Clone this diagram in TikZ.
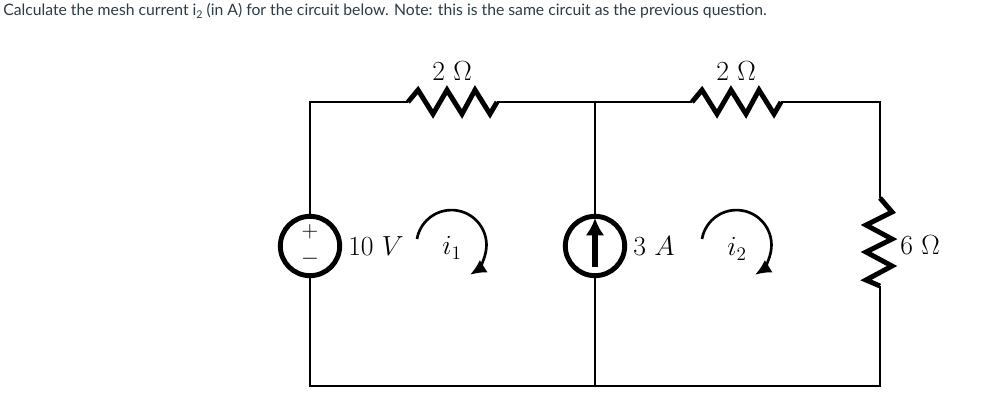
\documentclass[tikz,border=0pt]{standalone}
\usepackage{amsmath}
\usepackage{fontspec}
\newfontfamily\titlefont{Lato}
\usetikzlibrary{arrows.meta, positioning}
\definecolor{titlegray}{HTML}{2D3B45}
\tikzset{
    wire/.style={line width=2.1pt},
    zigzag/.style={line width=3.7pt, line join=miter},
    source/.style={draw, circle, line width=3.7pt, minimum size=44.5pt, inner sep=0pt},
    lab/.style={font=\huge, inner sep=0pt},
    signlab/.style={font=\LARGE, inner sep=0pt},
    mesharrow/.style={line width=2pt, -{Latex[length=12pt,width=11pt]}},
    sourcearrow/.style={line width=3.8pt, -{Latex[length=13pt,width=14pt]}}
}
\begin{document}
\begin{tikzpicture}[x=0.75pt,y=-0.75pt]
\useasboundingbox (0,0) rectangle (997,408);

\node[anchor=west, inner sep=0pt, text=titlegray, font=\titlefont\fontsize{11.8}{14}\selectfont] (title) at (3,11)
    {Calculate the mesh current i\raisebox{-.4ex}{\footnotesize 2} (in A) for the circuit below. Note: this is the same circuit as the previous question.};

\coordinate (tl) at (310,102);
\coordinate (tm) at (595,102);
\coordinate (tr) at (880,102);
\coordinate (bl) at (310,386);
\coordinate (bm) at (595,386);
\coordinate (br) at (880,386);
\coordinate (r1a) at (408,102);
\coordinate (r1b) at (497,102);
\coordinate (r2a) at (692,102);
\coordinate (r2b) at (781,102);
\coordinate (r3a) at (880,198);
\coordinate (r3b) at (880,286);

\node[source] (vsrc) at (310,246) {};
\node[source] (isrc) at (595,246) {};

\draw[wire] (vsrc) -- (tl) -- (r1a);
\draw[wire] (r1b) -- (tm) -- (r2a);
\draw[wire] (r2b) -- (tr) -- (r3a);
\draw[wire] (r3b) -- (br) -- (bm) -- (bl) -- (vsrc);
\draw[wire] (tm) -- (isrc);
\draw[wire] (isrc) -- (bm);

\draw[zigzag] (r1a) -- ++(10,-12) -- ++(15,24) -- ++(14,-24) -- ++(15,24) -- ++(13,-24) -- ++(15,24) -- (r1b);
\draw[zigzag] (r2a) -- ++(10,-12) -- ++(15,24) -- ++(14,-24) -- ++(15,24) -- ++(13,-24) -- ++(15,24) -- (r2b);
\draw[zigzag] (r3a) -- ++(12,14) -- ++(-26,13) -- ++(26,14) -- ++(-26,13) -- ++(26,14) -- ++(-26,14) -- (r3b);

\coordinate (ia) at (595,267);
\coordinate (ib) at (595,218);
\draw[sourcearrow] (ia) -- (ib);

\node[signlab] (plus) at (310,232) {$+$};
\node[signlab] (minus) at (310,259) {$-$};

\node[lab, anchor=west] (vlab) at (348,246) {$10\ V$};
\node[lab, anchor=west] (ilab) at (633,246) {$3\ A$};
\node[lab, anchor=west] (r3lab) at (900,245) {$6\ \Omega$};
\node[lab] (r1lab) at (452,71) {$2\ \Omega$};
\node[lab] (r2lab) at (736,71) {$2\ \Omega$};
\node[lab] (i1lab) at (452,248) {$i_1$};
\node[lab] (i2lab) at (737,249) {$i_2$};

\coordinate (m1) at (417,239);
\coordinate (m2) at (702,239);
\draw[mesharrow] (m1) arc[start angle=-170, end angle=58, radius=35];
\draw[mesharrow] (m2) arc[start angle=-170, end angle=58, radius=35];

\end{tikzpicture}
\end{document}
